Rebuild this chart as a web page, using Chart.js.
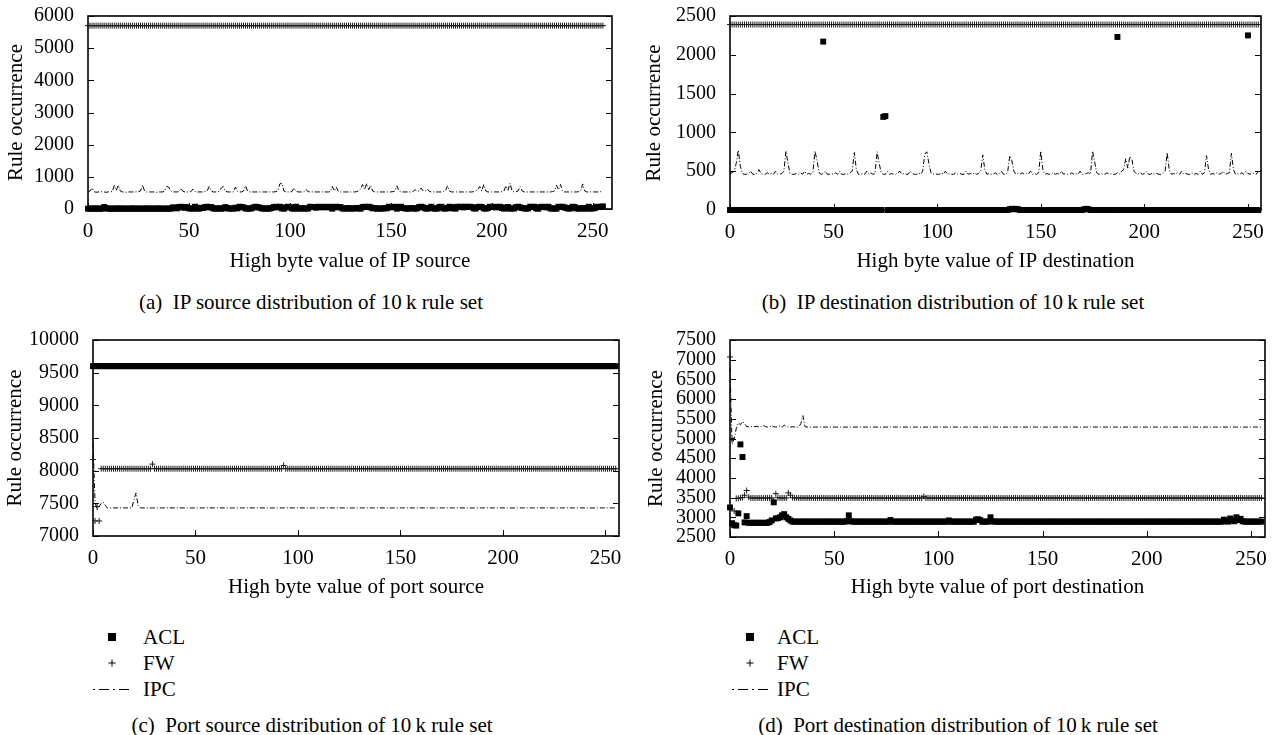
<!DOCTYPE html>
<html>
<head>
<meta charset="utf-8">
<script src="https://cdn.jsdelivr.net/npm/chart.js@4/dist/chart.umd.min.js"></script>
<style>
  html, body { margin: 0; padding: 0; background: #fff; }
  #fig { position: relative; width: 1274px; height: 735px; overflow: hidden;
         font-family: "Liberation Serif", "DejaVu Serif", serif; color: #000; }
  #fig canvas { position: absolute; }
  .cap { position: absolute; text-align: center; font-size: 21px; line-height: 24px; white-space: nowrap; }
  .lg  { position: absolute; font-size: 21px; line-height: 24px; white-space: nowrap; }
  .mk  { position: absolute; overflow: visible; }
</style>
</head>
<body>
<div id="fig">
  <canvas id="panelA" width="630" height="285" style="left:0px;top:0px"></canvas>
  <canvas id="panelB" width="637" height="285" style="left:637px;top:0px"></canvas>
  <canvas id="panelC" width="637" height="290" style="left:0px;top:320px"></canvas>
  <canvas id="panelD" width="637" height="290" style="left:637px;top:320px"></canvas>

  <div class="cap" style="left:0px;width:622px;top:290px">(a)&ensp;IP source distribution of 10&thinsp;k rule set</div>
  <div class="cap" style="left:637px;width:632px;top:290px">(b)&ensp;IP destination distribution of 10&thinsp;k rule set</div>
  <div class="cap" style="left:0px;width:624px;top:713px">(c)&ensp;Port source distribution of 10&thinsp;k rule set</div>
  <div class="cap" style="left:637px;width:642px;top:713px">(d)&ensp;Port destination distribution of 10&thinsp;k rule set</div>

  <!-- legend under panel (c) -->
  <svg class="mk" style="left:106px;top:631px" width="12" height="12"><rect x="2" y="2" width="8" height="8" fill="#000"/></svg>
  <svg class="mk" style="left:106px;top:657px" width="12" height="12"><path d="M6 2.5V9.5M2.5 6H9.5" stroke="#000" stroke-width="1"/></svg>
  <svg class="mk" style="left:92px;top:683px" width="38" height="12"><line x1="1" y1="6.5" x2="37" y2="6.5" stroke="#000" stroke-width="1" stroke-dasharray="2 4 10 4 2 4 10 4"/></svg>
  <div class="lg" style="left:143px;top:625px">ACL</div>
  <div class="lg" style="left:143px;top:651px">FW</div>
  <div class="lg" style="left:143px;top:677px">IPC</div>

  <!-- legend under panel (d) -->
  <svg class="mk" style="left:744px;top:631px" width="12" height="12"><rect x="2" y="2" width="8" height="8" fill="#000"/></svg>
  <svg class="mk" style="left:744px;top:657px" width="12" height="12"><path d="M6 2.5V9.5M2.5 6H9.5" stroke="#000" stroke-width="1"/></svg>
  <svg class="mk" style="left:731px;top:683px" width="38" height="12"><line x1="1" y1="6.5" x2="37" y2="6.5" stroke="#000" stroke-width="1" stroke-dasharray="2 4 10 4 2 4 10 4"/></svg>
  <div class="lg" style="left:777px;top:625px">ACL</div>
  <div class="lg" style="left:777px;top:651px">FW</div>
  <div class="lg" style="left:777px;top:677px">IPC</div>
</div>

<script>
// ---- x domain: high byte value 0..255 ----
const highByte = Array.from({ length: 256 }, (_, i) => i);
const byteTicks = [0, 50, 100, 150, 200, 250];

// ---- (a) IP source ----
const ipSrcACL = [
  10,10,15,10,20,10,10,10,60,30,10,10,15,10,10,20,
  10,10,15,10,10,10,20,10,10,15,10,10,10,20,10,10,
  15,10,10,20,10,10,10,15,10,10,50,40,20,60,70,50,
  40,60,20,15,10,70,20,10,40,30,60,70,50,60,20,10,
  15,20,10,20,60,30,10,20,10,40,20,70,60,50,20,10,
  15,20,50,70,60,40,20,10,20,10,15,30,60,70,50,70,
  20,10,50,70,60,20,10,70,20,10,30,10,20,15,70,60,
  60,40,70,60,50,70,60,50,70,10,60,70,50,60,20,10,
  20,30,10,20,15,30,20,10,60,70,60,70,50,20,30,10,
  20,10,15,30,20,70,60,50,70,10,60,70,30,20,10,15,
  30,20,10,20,60,70,50,20,10,30,70,20,10,15,60,70,
  20,10,30,70,20,60,10,70,60,70,50,70,60,70,60,20,
  15,60,70,60,20,10,30,70,60,70,50,60,70,30,10,50,
  60,10,20,15,60,70,50,30,20,10,20,70,60,70,20,10,
  60,70,60,50,70,20,10,20,10,70,60,70,50,30,10,20,
  70,60,20,10,20,30,10,20,70,10,20,30,70,60,70,80
];
const ipSrcFW = [
  5700,5700,5700,5700,5700,5700,5700,5700,5700,5700,5700,5700,5700,5700,5700,5700,
  5700,5700,5700,5700,5700,5700,5700,5700,5700,5700,5700,5700,5700,5700,5700,5700,
  5700,5700,5700,5700,5700,5700,5700,5700,5700,5700,5700,5700,5700,5700,5700,5700,
  5700,5700,5700,5700,5700,5700,5700,5700,5700,5700,5700,5700,5700,5700,5700,5700,
  5700,5700,5700,5700,5700,5700,5700,5700,5700,5700,5700,5700,5700,5700,5700,5700,
  5700,5700,5700,5700,5700,5700,5700,5700,5700,5700,5700,5700,5700,5700,5700,5700,
  5700,5700,5700,5700,5700,5700,5700,5700,5700,5700,5700,5700,5700,5700,5700,5700,
  5700,5700,5700,5700,5700,5700,5700,5700,5700,5700,5700,5700,5700,5700,5700,5700,
  5700,5700,5700,5700,5700,5700,5700,5700,5700,5700,5700,5700,5700,5700,5700,5700,
  5700,5700,5700,5700,5700,5700,5700,5700,5700,5700,5700,5700,5700,5700,5700,5700,
  5700,5700,5700,5700,5700,5700,5700,5700,5700,5700,5700,5700,5700,5700,5700,5700,
  5700,5700,5700,5700,5700,5700,5700,5700,5700,5700,5700,5700,5700,5700,5700,5700,
  5700,5700,5700,5700,5700,5700,5700,5700,5700,5700,5700,5700,5700,5700,5700,5700,
  5700,5700,5700,5700,5700,5700,5700,5700,5700,5700,5700,5700,5700,5700,5700,5700,
  5700,5700,5700,5700,5700,5700,5700,5700,5700,5700,5700,5700,5700,5700,5700,5700,
  5700,5700,5700,5700,5700,5700,5700,5700,5700,5700,5700,5700,5700,5700,5700,5700
];
const ipSrcIPC = [
  530,560,650,540,520,530,530,540,530,520,530,540,540,730,580,740,
  560,530,530,520,530,530,530,530,530,540,560,750,560,530,530,530,
  530,530,520,530,530,530,560,700,680,560,530,530,530,540,640,550,
  530,530,530,540,620,540,530,530,530,530,540,560,700,560,530,530,
  530,550,650,700,560,530,530,530,530,680,550,530,530,560,720,560,
  530,530,530,530,530,530,530,530,530,530,530,530,530,540,560,780,
  800,560,530,530,530,540,650,550,530,530,530,530,600,540,530,530,
  530,530,530,530,530,530,530,530,540,700,560,680,550,530,530,530,
  530,530,530,530,530,540,560,620,760,600,790,600,740,560,530,530,
  530,530,530,530,530,530,530,540,560,720,560,530,530,530,530,530,
  530,540,600,550,560,650,560,560,620,550,530,530,530,530,530,530,
  540,560,720,560,530,530,530,530,530,530,530,530,530,530,530,540,
  560,600,700,560,760,560,530,530,530,530,530,530,530,540,560,720,
  580,800,560,530,540,560,700,560,530,530,530,530,530,530,530,530,
  530,530,530,530,530,530,540,560,740,600,760,560,530,530,530,530,
  530,530,530,540,560,780,560,530,530,530,530,530,530,530,540,560
];

// ---- (b) IP destination ----
const ipDstACL = [
  0,0,0,0,0,0,0,0,0,0,0,0,0,0,0,0,
  0,0,0,0,0,0,0,0,0,0,0,0,0,0,0,0,
  0,0,0,0,0,0,0,0,0,0,0,0,0,2170,0,0,
  0,0,0,0,0,0,0,0,0,0,0,0,0,0,0,0,
  0,0,0,0,0,0,0,0,0,0,1200,1210,0,0,0,0,
  0,0,0,0,0,0,0,0,0,0,0,0,0,0,0,0,
  0,0,0,0,0,0,0,0,0,0,0,0,0,0,0,0,
  0,0,0,0,0,0,0,0,0,0,0,0,0,0,0,0,
  0,0,0,0,0,0,0,10,15,10,15,10,0,0,0,0,
  0,0,0,0,0,0,0,0,0,0,0,0,0,0,0,0,
  0,0,0,0,0,0,0,0,0,0,0,10,15,10,0,0,
  0,0,0,0,0,0,0,0,0,0,0,2230,0,0,0,0,
  0,0,0,0,0,0,0,0,0,0,0,0,0,0,0,0,
  0,0,0,0,0,0,0,0,0,0,0,0,0,0,0,0,
  0,0,0,0,0,0,0,0,0,0,0,0,0,0,0,0,
  0,0,0,0,0,0,0,0,0,0,2250,0,0,0,0,0
];
const ipDstFW = [
  2390,2390,2390,2390,2390,2390,2390,2390,2390,2390,2390,2390,2390,2390,2390,2390,
  2390,2390,2390,2390,2390,2390,2390,2390,2390,2390,2390,2390,2390,2390,2390,2390,
  2390,2390,2390,2390,2390,2390,2390,2390,2390,2390,2390,2390,2390,2390,2390,2390,
  2390,2390,2390,2390,2390,2390,2390,2390,2390,2390,2390,2390,2390,2390,2390,2390,
  2390,2390,2390,2390,2390,2390,2390,2390,2390,2390,2390,2390,2390,2390,2390,2390,
  2390,2390,2390,2390,2390,2390,2390,2390,2390,2390,2390,2390,2390,2390,2390,2390,
  2390,2390,2390,2390,2390,2390,2390,2390,2390,2390,2390,2390,2390,2390,2390,2390,
  2390,2390,2390,2390,2390,2390,2390,2390,2390,2390,2390,2390,2390,2390,2390,2390,
  2390,2390,2390,2390,2390,2390,2390,2390,2390,2390,2390,2390,2390,2390,2390,2390,
  2390,2390,2390,2390,2390,2390,2390,2390,2390,2390,2390,2390,2390,2390,2390,2390,
  2390,2390,2390,2390,2390,2390,2390,2390,2390,2390,2390,2390,2390,2390,2390,2390,
  2390,2390,2390,2390,2390,2390,2390,2390,2390,2390,2390,2390,2390,2390,2390,2390,
  2390,2390,2390,2390,2390,2390,2390,2390,2390,2390,2390,2390,2390,2390,2390,2390,
  2390,2390,2390,2390,2390,2390,2390,2390,2390,2390,2390,2390,2390,2390,2390,2390,
  2390,2390,2390,2390,2390,2390,2390,2390,2390,2390,2390,2390,2390,2390,2390,2390,
  2390,2390,2390,2390,2390,2390,2390,2390,2390,2390,2390,2390,2390,2390,2390,2390
];
const ipDstIPC = [
  470,480,500,600,770,560,470,460,460,470,500,460,460,470,520,470,
  460,460,480,460,470,460,500,460,460,470,500,760,600,470,460,460,
  470,460,480,460,500,460,470,460,480,760,640,480,460,470,500,460,
  460,470,460,480,460,500,460,460,470,460,480,500,740,520,460,460,
  470,460,500,460,480,460,470,750,600,480,460,460,500,460,470,460,
  460,480,500,460,470,460,460,500,470,460,460,480,460,500,720,750,
  600,480,460,470,460,460,480,460,500,460,470,460,460,480,460,470,
  460,460,500,460,470,460,480,460,470,500,710,520,460,470,460,460,
  480,460,470,500,460,460,480,700,640,500,460,470,460,480,460,470,
  460,500,460,470,460,480,760,520,460,470,460,460,480,460,470,460,
  500,460,470,460,460,480,460,470,460,500,460,460,470,480,460,760,
  620,480,460,470,460,460,480,460,470,460,460,480,460,500,520,660,
  540,690,650,500,470,460,480,460,470,500,460,460,480,460,470,460,
  460,480,500,740,520,460,470,460,480,460,500,460,470,460,460,480,
  460,470,460,500,460,480,700,520,460,470,460,480,460,470,500,460,
  470,480,730,520,460,470,460,480,460,500,470,460,480,470,460,500
];

// ---- (c) port source ----
const portSrcACL = [
  9600,9600,9600,9600,9600,9600,9600,9600,9600,9600,9600,9600,9600,9600,9600,9600,
  9600,9600,9600,9600,9600,9600,9600,9600,9600,9600,9600,9600,9600,9600,9600,9600,
  9600,9600,9600,9600,9600,9600,9600,9600,9600,9600,9600,9600,9600,9600,9600,9600,
  9600,9600,9600,9600,9600,9600,9600,9600,9600,9600,9600,9600,9600,9600,9600,9600,
  9600,9600,9600,9600,9600,9600,9600,9600,9600,9600,9600,9600,9600,9600,9600,9600,
  9600,9600,9600,9600,9600,9600,9600,9600,9600,9600,9600,9600,9600,9600,9600,9600,
  9600,9600,9600,9600,9600,9600,9600,9600,9600,9600,9600,9600,9600,9600,9600,9600,
  9600,9600,9600,9600,9600,9600,9600,9600,9600,9600,9600,9600,9600,9600,9600,9600,
  9600,9600,9600,9600,9600,9600,9600,9600,9600,9600,9600,9600,9600,9600,9600,9600,
  9600,9600,9600,9600,9600,9600,9600,9600,9600,9600,9600,9600,9600,9600,9600,9600,
  9600,9600,9600,9600,9600,9600,9600,9600,9600,9600,9600,9600,9600,9600,9600,9600,
  9600,9600,9600,9600,9600,9600,9600,9600,9600,9600,9600,9600,9600,9600,9600,9600,
  9600,9600,9600,9600,9600,9600,9600,9600,9600,9600,9600,9600,9600,9600,9600,9600,
  9600,9600,9600,9600,9600,9600,9600,9600,9600,9600,9600,9600,9600,9600,9600,9600,
  9600,9600,9600,9600,9600,9600,9600,9600,9600,9600,9600,9600,9600,9600,9600,9600,
  9600,9600,9600,9600,9600,9600,9600,9600,9600,9600,9600,9600,9600,9600,9600,9600
];
const portSrcFW = [
  8170,7230,7450,7230,8030,8030,8030,8030,8030,8030,8030,8030,8030,8030,8030,8030,
  8030,8030,8030,8030,8030,8030,8030,8030,8030,8030,8030,8030,8030,8100,8030,8030,
  8030,8030,8030,8030,8030,8030,8030,8030,8030,8030,8030,8030,8030,8030,8030,8030,
  8030,8030,8030,8030,8030,8030,8030,8030,8030,8030,8030,8030,8030,8030,8030,8030,
  8030,8030,8030,8030,8030,8030,8030,8030,8030,8030,8030,8030,8030,8030,8030,8030,
  8030,8030,8030,8030,8030,8030,8030,8030,8030,8030,8030,8030,8030,8080,8030,8030,
  8030,8030,8030,8030,8030,8030,8030,8030,8030,8030,8030,8030,8030,8030,8030,8030,
  8030,8030,8030,8030,8030,8030,8030,8030,8030,8030,8030,8030,8030,8030,8030,8030,
  8030,8030,8030,8030,8030,8030,8030,8030,8030,8030,8030,8030,8030,8030,8030,8030,
  8030,8030,8030,8030,8030,8030,8030,8030,8030,8030,8030,8030,8030,8030,8030,8030,
  8030,8030,8030,8030,8030,8030,8030,8030,8030,8030,8030,8030,8030,8030,8030,8030,
  8030,8030,8030,8030,8030,8030,8030,8030,8030,8030,8030,8030,8030,8030,8030,8030,
  8030,8030,8030,8030,8030,8030,8030,8030,8030,8030,8030,8030,8030,8030,8030,8030,
  8030,8030,8030,8030,8030,8030,8030,8030,8030,8030,8030,8030,8030,8030,8030,8030,
  8030,8030,8030,8030,8030,8030,8030,8030,8030,8030,8030,8030,8030,8030,8030,8030,
  8030,8030,8030,8030,8030,8030,8030,8030,8030,8030,8030,8030,8030,8030,8030,8030
];
const portSrcIPC = [
  8420,7520,7400,7450,7500,7520,7470,7430,7430,7430,7430,7430,7430,7430,7430,7430,
  7430,7430,7430,7430,7560,7660,7470,7430,7430,7430,7430,7430,7430,7430,7430,7430,
  7430,7430,7430,7430,7430,7430,7430,7430,7430,7430,7430,7430,7430,7430,7430,7430,
  7430,7430,7430,7430,7430,7430,7430,7430,7430,7430,7430,7430,7430,7430,7430,7430,
  7430,7430,7430,7430,7430,7430,7430,7430,7430,7430,7430,7430,7430,7430,7430,7430,
  7430,7430,7430,7430,7430,7430,7430,7430,7430,7430,7430,7430,7430,7430,7430,7430,
  7430,7430,7430,7430,7430,7430,7430,7430,7430,7430,7430,7430,7430,7430,7430,7430,
  7430,7430,7430,7430,7430,7430,7430,7430,7430,7430,7430,7430,7430,7430,7430,7430,
  7430,7430,7430,7430,7430,7430,7430,7430,7430,7430,7430,7430,7430,7430,7430,7430,
  7430,7430,7430,7430,7430,7430,7430,7430,7430,7430,7430,7430,7430,7430,7430,7430,
  7430,7430,7430,7430,7430,7430,7430,7430,7430,7430,7430,7430,7430,7430,7430,7430,
  7430,7430,7430,7430,7430,7430,7430,7430,7430,7430,7430,7430,7430,7430,7430,7430,
  7430,7430,7430,7430,7430,7430,7430,7430,7430,7430,7430,7430,7430,7430,7430,7430,
  7430,7430,7430,7430,7430,7430,7430,7430,7430,7430,7430,7430,7430,7430,7430,7430,
  7430,7430,7430,7430,7430,7430,7430,7430,7430,7430,7430,7430,7430,7430,7430,7430,
  7430,7430,7430,7430,7430,7430,7430,7430,7430,7430,7430,7430,7430,7430,7430,7430
];

// ---- (d) port destination ----
const portDstACL = [
  3250,2850,2800,2790,3100,4850,4530,2870,3030,2860,2860,2860,2860,2860,2860,2860,
  2860,2860,2860,2880,2920,3380,2970,2980,3000,3050,3080,3000,2960,2920,2890,2890,
  2890,2890,2890,2890,2890,2890,2890,2890,2890,2890,2890,2890,2890,2890,2890,2890,
  2890,2890,2890,2890,2890,2890,2890,2890,2900,3050,2900,2890,2890,2890,2890,2890,
  2890,2890,2890,2890,2890,2890,2890,2890,2890,2890,2890,2890,2890,2930,2890,2890,
  2890,2890,2890,2890,2890,2890,2890,2890,2890,2890,2890,2890,2890,2890,2890,2890,
  2890,2890,2890,2890,2890,2890,2890,2890,2890,2920,2890,2890,2890,2890,2890,2890,
  2890,2890,2890,2890,2890,2890,2940,2950,2930,2890,2890,2890,2890,3000,2900,2890,
  2890,2890,2890,2890,2890,2890,2890,2890,2890,2890,2890,2890,2890,2890,2890,2890,
  2890,2890,2890,2890,2890,2890,2890,2890,2890,2890,2890,2890,2890,2890,2890,2890,
  2890,2890,2890,2890,2890,2890,2890,2890,2890,2890,2890,2890,2890,2890,2890,2890,
  2890,2890,2890,2890,2890,2890,2890,2890,2890,2890,2890,2890,2890,2890,2890,2890,
  2890,2890,2890,2890,2890,2890,2890,2890,2890,2890,2890,2890,2890,2890,2890,2890,
  2890,2890,2890,2890,2890,2890,2890,2890,2890,2890,2890,2890,2890,2890,2890,2890,
  2890,2890,2890,2890,2890,2890,2890,2890,2890,2890,2890,2890,2890,2940,2900,2890,
  2970,2920,2900,3000,2930,2960,2900,2890,2890,2890,2890,2890,2890,2890,2890,2890
];
const portDstFW = [
  7070,5000,3160,3480,3480,3490,3500,3560,3680,3510,3490,3490,3490,3490,3490,3490,
  3490,3490,3490,3490,3490,3420,3600,3500,3490,3490,3490,3490,3620,3560,3500,3490,
  3490,3490,3490,3490,3490,3490,3490,3490,3490,3490,3490,3490,3490,3490,3490,3490,
  3490,3490,3490,3490,3490,3490,3490,3490,3490,3490,3490,3490,3490,3490,3490,3490,
  3490,3490,3490,3490,3490,3490,3490,3490,3490,3490,3490,3490,3490,3490,3490,3490,
  3490,3490,3490,3490,3490,3490,3490,3490,3490,3490,3490,3490,3490,3530,3490,3490,
  3490,3490,3490,3490,3490,3490,3490,3490,3490,3490,3490,3490,3490,3490,3490,3490,
  3490,3490,3490,3490,3490,3490,3490,3490,3490,3490,3490,3490,3490,3490,3490,3490,
  3490,3490,3490,3490,3490,3490,3490,3490,3490,3490,3490,3490,3490,3490,3490,3490,
  3490,3490,3490,3490,3490,3490,3490,3490,3490,3490,3490,3490,3490,3490,3490,3490,
  3490,3490,3490,3490,3490,3490,3490,3490,3490,3490,3490,3490,3490,3490,3490,3490,
  3490,3490,3490,3490,3490,3490,3490,3490,3490,3490,3490,3490,3490,3490,3490,3490,
  3490,3490,3490,3490,3490,3490,3490,3490,3490,3490,3490,3490,3490,3490,3490,3490,
  3490,3490,3490,3490,3490,3490,3490,3490,3490,3490,3490,3490,3490,3490,3490,3490,
  3490,3490,3490,3490,3490,3490,3490,3490,3490,3490,3490,3490,3490,3490,3490,3490,
  3490,3490,3490,3490,3490,3490,3490,3490,3490,3490,3490,3490,3490,3490,3490,3490
];
const portDstIPC = [
  6800,4850,5000,5250,5400,5350,5430,5380,5300,5300,5300,5300,5300,5310,5290,5300,
  5330,5300,5290,5290,5330,5300,5290,5290,5320,5290,5340,5310,5290,5290,5300,5290,
  5290,5290,5380,5580,5300,5290,5290,5290,5290,5290,5290,5290,5290,5290,5290,5290,
  5290,5290,5290,5290,5290,5290,5290,5290,5290,5290,5290,5290,5290,5290,5290,5290,
  5290,5290,5290,5290,5290,5290,5290,5290,5290,5290,5290,5290,5290,5290,5290,5290,
  5290,5290,5290,5290,5290,5290,5290,5290,5290,5290,5290,5290,5290,5290,5290,5290,
  5290,5290,5290,5290,5290,5290,5290,5290,5290,5290,5290,5290,5290,5290,5290,5290,
  5290,5290,5290,5290,5290,5290,5290,5290,5290,5290,5290,5290,5290,5290,5290,5290,
  5290,5290,5290,5290,5290,5290,5290,5290,5290,5290,5290,5290,5290,5290,5290,5290,
  5290,5290,5290,5290,5290,5290,5290,5290,5290,5290,5290,5290,5290,5290,5290,5290,
  5290,5290,5290,5290,5290,5290,5290,5290,5290,5290,5290,5290,5290,5290,5290,5290,
  5290,5290,5290,5290,5290,5290,5290,5290,5290,5290,5290,5290,5290,5290,5290,5290,
  5290,5290,5290,5290,5290,5290,5290,5290,5290,5290,5290,5290,5290,5290,5290,5290,
  5290,5290,5290,5290,5290,5290,5290,5290,5290,5290,5290,5290,5290,5290,5290,5290,
  5290,5290,5290,5290,5290,5290,5290,5290,5290,5290,5290,5290,5290,5290,5290,5290,
  5290,5290,5290,5290,5290,5290,5290,5290,5290,5290,5290,5290,5290,5290,5290,5290
];

// ---- drawing ----
const SERIF = '"Liberation Serif", "DejaVu Serif", serif';
Chart.defaults.font.family = SERIF;
Chart.defaults.color = '#000';

// Plot frame with inward tick marks (left/right on y, bottom on x)
const framePlugin = {
  id: 'frameTicks',
  beforeDatasetsDraw(chart) {
    const { ctx, chartArea: a, scales: { x, y } } = chart;
    const len = 6;
    ctx.save();
    ctx.strokeStyle = '#000';
    ctx.lineWidth = 1;
    ctx.beginPath();
    y.ticks.forEach(t => {
      const p = Math.round(y.getPixelForValue(t.value)) + 0.5;
      ctx.moveTo(a.left, p); ctx.lineTo(a.left + len, p);
      ctx.moveTo(a.right, p); ctx.lineTo(a.right - len, p);
    });
    x.ticks.forEach(t => {
      const p = Math.round(x.getPixelForValue(t.value)) + 0.5;
      ctx.moveTo(p, a.bottom); ctx.lineTo(p, a.bottom - len);
    });
    ctx.stroke();
    ctx.lineWidth = 1.6;
    ctx.strokeRect(a.left, a.top, a.right - a.left, a.bottom - a.top);
    ctx.restore();
  }
};

function drawPanel(id, box, acl, fw, ipc) {
  const cv = document.getElementById(id);
  const W = cv.width, H = cv.height;
  new Chart(cv, {
    type: 'line',
    data: {
      labels: highByte,
      datasets: [
        { label: 'ACL', data: acl, showLine: false, pointStyle: 'rect',
          pointRadius: 4.2, pointBorderWidth: 0, backgroundColor: '#000', borderColor: '#000', clip: false },
        { label: 'FW', data: fw, showLine: false, pointStyle: 'cross',
          pointRadius: 3, pointBorderWidth: 1, borderColor: '#1a1a1a', backgroundColor: '#1a1a1a', clip: false },
        { label: 'IPC', data: ipc, pointRadius: 0, borderColor: '#000', borderWidth: 1,
          borderDash: [5, 2, 1, 2], tension: 0, fill: false, clip: false }
      ]
    },
    options: {
      responsive: false,
      animation: false,
      events: [],
      layout: { padding: { left: 0, top: box.top, right: W - box.right, bottom: 0 } },
      plugins: { legend: { display: false }, tooltip: { enabled: false } },
      scales: {
        x: {
          type: 'linear', min: 0, max: box.xMax,
          grid: { display: false }, border: { display: false },
          afterBuildTicks: s => { s.ticks = byteTicks.map(v => ({ value: v })); },
          afterFit: s => { s.height = H - box.bottom; },
          ticks: { autoSkip: false, maxRotation: 0, padding: 2, color: '#000', font: { size: 21 },
                   callback: v => String(v) },
          title: { display: true, text: box.xTitle, color: '#000', font: { size: 21 },
                   padding: { top: 0, bottom: box.xTitlePad } }
        },
        y: {
          type: 'linear', min: box.yMin, max: box.yMax,
          grid: { display: false }, border: { display: false },
          afterFit: s => { s.width = box.left; },
          ticks: { stepSize: box.yStep, autoSkip: false, padding: 6, color: '#000', font: { size: 20, lineHeight: 1 },
                   callback: v => String(v) },
          title: { display: true, text: 'Rule occurrence', color: '#000', font: { size: 21 },
                   padding: { top: box.yTitlePad, bottom: 0 } }
        }
      }
    },
    plugins: [framePlugin]
  });
}

drawPanel('panelA',
  { left: 88, right: 612, top: 15, bottom: 209, xMax: 259.5, yMin: 0, yMax: 6000, yStep: 1000,
    xTitle: 'High byte value of IP source', xTitlePad: 11, yTitlePad: 4 },
  ipSrcACL, ipSrcFW, ipSrcIPC);

drawPanel('panelB',
  { left: 93, right: 624, top: 16, bottom: 210, xMax: 256.3, yMin: 0, yMax: 2500, yStep: 500,
    xTitle: 'High byte value of IP destination', xTitlePad: 11, yTitlePad: 5 },
  ipDstACL, ipDstFW, ipDstIPC);

drawPanel('panelC',
  { left: 93, right: 619, top: 20, bottom: 216, xMax: 256.6, yMin: 7000, yMax: 10000, yStep: 500,
    xTitle: 'High byte value of port source', xTitlePad: 10, yTitlePad: 3 },
  portSrcACL, portSrcFW, portSrcIPC);

drawPanel('panelD',
  { left: 93, right: 628, top: 20, bottom: 217, xMax: 256.7, yMin: 2500, yMax: 7500, yStep: 500,
    xTitle: 'High byte value of port destination', xTitlePad: 10, yTitlePad: 7 },
  portDstACL, portDstFW, portDstIPC);
</script>
</body>
</html>
